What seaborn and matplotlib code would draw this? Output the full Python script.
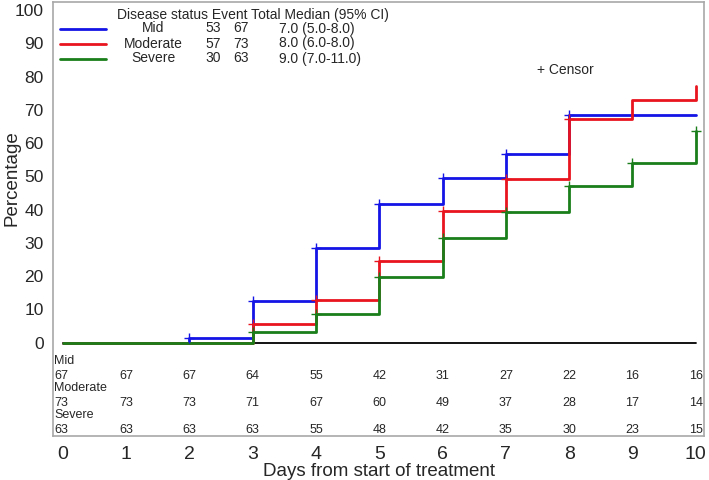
import numpy as np
import pandas as pd
import matplotlib
matplotlib.use("Agg")
import matplotlib.pyplot as plt
import seaborn as sns

# ---- data ----
days = [0, 1, 2, 3, 4, 5, 6, 7, 8, 9, 10]
groups = ["Mid", "Moderate", "Severe"]
mid_pct = [0, 0, 1.5, 12.5, 28.4, 41.7, 49.4, 56.8, 68.5, 68.5, 68.5]
moderate_pct = [0, 0, 0, 5.6, 12.7, 24.5, 39.7, 49.3, 67.4, 73.0, 77.2]
severe_pct = [0, 0, 0, 3.3, 8.5, 19.8, 31.5, 39.2, 47.1, 54.0, 63.7]
mid_censor_days = [2, 3, 4, 5, 6, 7, 8]
moderate_censor_days = [3, 4, 5, 6, 7, 8]
severe_censor_days = [3, 4, 5, 6, 7, 8, 9, 10]
mid_risk = [67, 67, 67, 64, 55, 42, 31, 27, 22, 16, 16]
moderate_risk = [73, 73, 73, 71, 67, 60, 49, 37, 28, 17, 14]
severe_risk = [63, 63, 63, 63, 55, 48, 42, 35, 30, 23, 15]
events = [53, 57, 30]
totals = [67, 73, 63]
medians = ["7.0 (5.0-8.0)", "8.0 (6.0-8.0)", "9.0 (7.0-11.0)"]
legend_header = "Disease status Event Total Median (95% CI)"
y_ticks = [0, 10, 20, 30, 40, 50, 60, 70, 80, 90, 100]

colors = {"Mid": "#1414E6", "Moderate": "#E8141E", "Severe": "#1A7F1A"}

sns.set_style("white")
plt.rcParams["font.family"] = ["Liberation Sans", "DejaVu Sans"]

series = {"Mid": mid_pct, "Moderate": moderate_pct, "Severe": severe_pct}
censors = {"Mid": mid_censor_days, "Moderate": moderate_censor_days, "Severe": severe_censor_days}
risks = {"Mid": mid_risk, "Moderate": moderate_risk, "Severe": severe_risk}

df = pd.DataFrame({
    "day": days * 3,
    "pct": mid_pct + moderate_pct + severe_pct,
    "group": sum([[g] * len(days) for g in groups], []),
})

fig = plt.figure(figsize=(7.09, 4.80), dpi=100)
ax = fig.add_axes([0.0752, 0.0917, 0.9178, 0.9031])

# zero line
ax.plot([0, 10], [0, 0], color="black", lw=1.3, zorder=1)

sns.lineplot(data=df, x="day", y="pct", hue="group", palette=colors,
             estimator=None, sort=False, drawstyle="steps-post",
             linewidth=2.0, legend=False, ax=ax, zorder=3)

for g in groups:
    xs = censors[g]
    ys = [series[g][days.index(d)] for d in xs]
    sns.scatterplot(x=xs, y=ys, marker="+", s=60, color=colors[g],
                    linewidth=1.0, ax=ax, zorder=4, legend=False)

ax.set_xlim(-0.148, 10.13)
ax.set_ylim(-28.1, 102.3)
ax.set_xticks(days)
ax.set_xticklabels([str(d) for d in days], fontsize=14)
ax.set_yticks(y_ticks)
ax.set_yticklabels([str(v) for v in y_ticks], fontsize=12.5)
ax.tick_params(axis="both", direction="out", length=5, width=1, color="#A8A8A8", pad=2)
ax.set_xlabel("Days from start of treatment", fontsize=13.5, labelpad=0)
ax.set_ylabel("")
for s in ax.spines.values():
    s.set_color("#A8A8A8")
    s.set_linewidth(1.2)

# risk table
label_y = {"Mid": -5.6, "Moderate": -13.8, "Severe": -21.9}
value_y = {"Mid": -10.0, "Moderate": -18.2, "Severe": -26.3}
rfs = 9
for g in groups:
    ax.text(-0.13, label_y[g], g, fontsize=rfs, ha="left", va="center")
    for d, n in zip(days, risks[g]):
        if d == 0:
            ax.text(-0.13, value_y[g], str(n), fontsize=rfs, ha="left", va="center")
        else:
            ax.text(d, value_y[g], str(n), fontsize=rfs, ha="center", va="center")

def px(x, y):
    return (x / 709.0, 1 - y / 480.0)

# y axis label
fig.text(*px(12, 178), "Percentage", fontsize=13.5, rotation=90, ha="center", va="center")

# legend block
fs = 10
fig.text(*px(117, 15), legend_header, fontsize=fs, ha="left", va="center")
row_y = [28.5, 43.5, 58.5]
for g, ry, ev, tot, med in zip(groups, row_y, events, totals, medians):
    x0, y0 = px(60, ry)
    x1, _ = px(106, ry)
    fig.add_artist(plt.Line2D([x0, x1], [y0, y0], color=colors[g], lw=2.0))
    fig.text(*px(153, ry), g, fontsize=fs, ha="center", va="center")
    fig.text(*px(213, ry), str(ev), fontsize=fs, ha="center", va="center")
    fig.text(*px(241, ry), str(tot), fontsize=fs, ha="center", va="center")
    fig.text(*px(279, ry), med, fontsize=fs, ha="left", va="center")

fig.text(*px(537, 70), "+ Censor", fontsize=fs, ha="left", va="center")

fig.savefig("out.png", dpi=100)
